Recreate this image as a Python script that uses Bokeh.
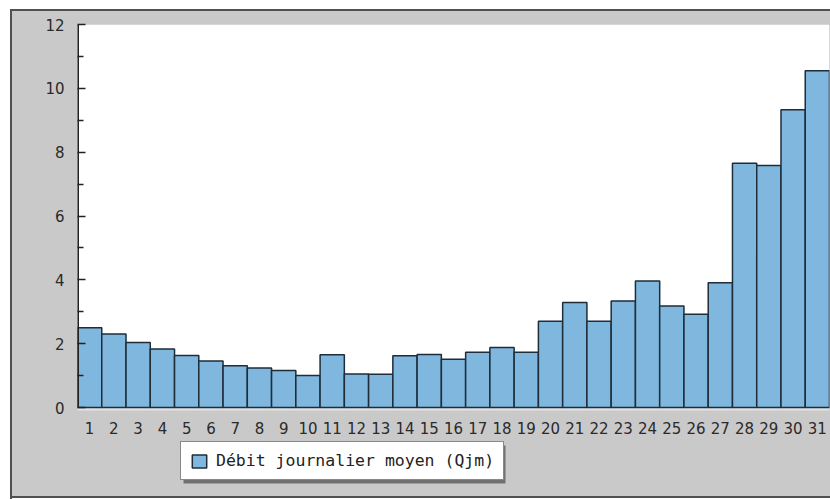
from bokeh.plotting import figure
from bokeh.models import (ColumnDataSource, FixedTicker, Legend, LegendItem,
                          Range1d, BoxAnnotation)
from bokeh.core.properties import value
from bokeh.embed import file_html
from bokeh.resources import INLINE

days = list(range(1, 32))
debit = [2.50, 2.30, 2.04, 1.83, 1.63, 1.46, 1.31, 1.24, 1.16, 1.00,
         1.65, 1.05, 1.04, 1.62, 1.66, 1.51, 1.73, 1.88, 1.73, 2.70,
         3.29, 2.70, 3.34, 3.96, 3.18, 2.92, 3.91, 7.65, 7.58, 9.33, 10.55]
day_labels = [str(d) for d in days]
series_label = "Débit journalier moyen (Qjm)"
y_major = [0, 2, 4, 6, 8, 10, 12]
y_minor = [1, 3, 5, 7, 9, 11]

src = ColumnDataSource(dict(day=days, debit=debit, lab=day_labels,
                            zero=[0] * len(days)))

# frame spans down to the bottom of the canvas; only 0..12 is the white plot area
Y_TOP = 12
PX_PER_UNIT = 383 / 12.0
Y_BOTTOM = -(499 - 24 - 383) / PX_PER_UNIT

p = figure(width=830, height=499, output_backend="svg", toolbar_location=None,
           frame_width=752, frame_height=475,
           min_border_left=77, min_border_top=24, min_border_right=1, min_border_bottom=0,
           x_range=Range1d(0.5, 31.5), y_range=Range1d(Y_BOTTOM, Y_TOP))
p.border_fill_alpha = 0
p.background_fill_alpha = 0
p.outline_line_color = None
p.grid.visible = False
p.xaxis.visible = False
p.styles = {
    "background-color": "#c9c9c9",
    "box-shadow": ("inset 10px 9px 0 0 #ffffff, inset 12px 11px 0 0 #505050, "
                   "inset 0 -1px 0 0 #ffffff, inset 0 -3px 0 0 #505050"),
}

# white plot area and light strip right under the bars
p.add_layout(BoxAnnotation(bottom=0, fill_color="white", fill_alpha=1,
                           line_alpha=0, level="underlay"))
p.add_layout(BoxAnnotation(top=0, bottom=-3 / PX_PER_UNIT, fill_color="#e2e2e2",
                           fill_alpha=1, line_alpha=0, level="underlay"))

r = p.vbar(x="day", top="debit", width=1.0, source=src,
           fill_color="#80b7df", line_color="#1e2d38", line_width=1.5)

# y axis line drawn only over the 0..12 span
p.segment(x0=[0.5], y0=[0], x1=[0.5], y1=[Y_TOP], line_color="#222222", line_width=3)

# x tick labels
p.text(x="day", y="zero", text="lab", source=src, text_align="center",
       text_baseline="top", y_offset=14, text_font=value("DejaVu Sans"),
       text_font_size="15px", text_color="#2a2a2a")

# y axis
ya = p.yaxis[0]
ya.ticker = FixedTicker(ticks=y_major, minor_ticks=y_minor)
ya.axis_line_color = None
ya.major_tick_in = 8
ya.major_tick_out = 0
ya.minor_tick_in = 6
ya.minor_tick_out = 0
ya.major_tick_line_color = "#222222"
ya.minor_tick_line_color = "#222222"
ya.major_tick_line_width = 1.5
ya.minor_tick_line_width = 1.5
ya.major_label_standoff = 13
ya.major_label_text_font = "DejaVu Sans"
ya.major_label_text_font_size = "15px"
ya.major_label_text_color = "#2a2a2a"

# legend shadow
p.add_layout(BoxAnnotation(left=183, right=505, top=445, bottom=483,
                           left_units="canvas", right_units="canvas",
                           top_units="canvas", bottom_units="canvas",
                           fill_color="#707070", fill_alpha=1, line_alpha=0))

legend = Legend(items=[LegendItem(label=series_label, renderers=[r])],
                location=(103, 19))
legend.border_line_color = "#111111"
legend.border_line_width = 1.5
legend.background_fill_color = "white"
legend.background_fill_alpha = 1
legend.label_text_font = "DejaVu Sans Mono"
legend.label_text_font_size = "16.5px"
legend.label_text_color = "#222222"
legend.glyph_width = 18
legend.glyph_height = 16
legend.label_standoff = 8
legend.padding = 9
legend.margin = 0
p.add_layout(legend, "center")

open("out.html", "w").write(file_html(p, INLINE))
